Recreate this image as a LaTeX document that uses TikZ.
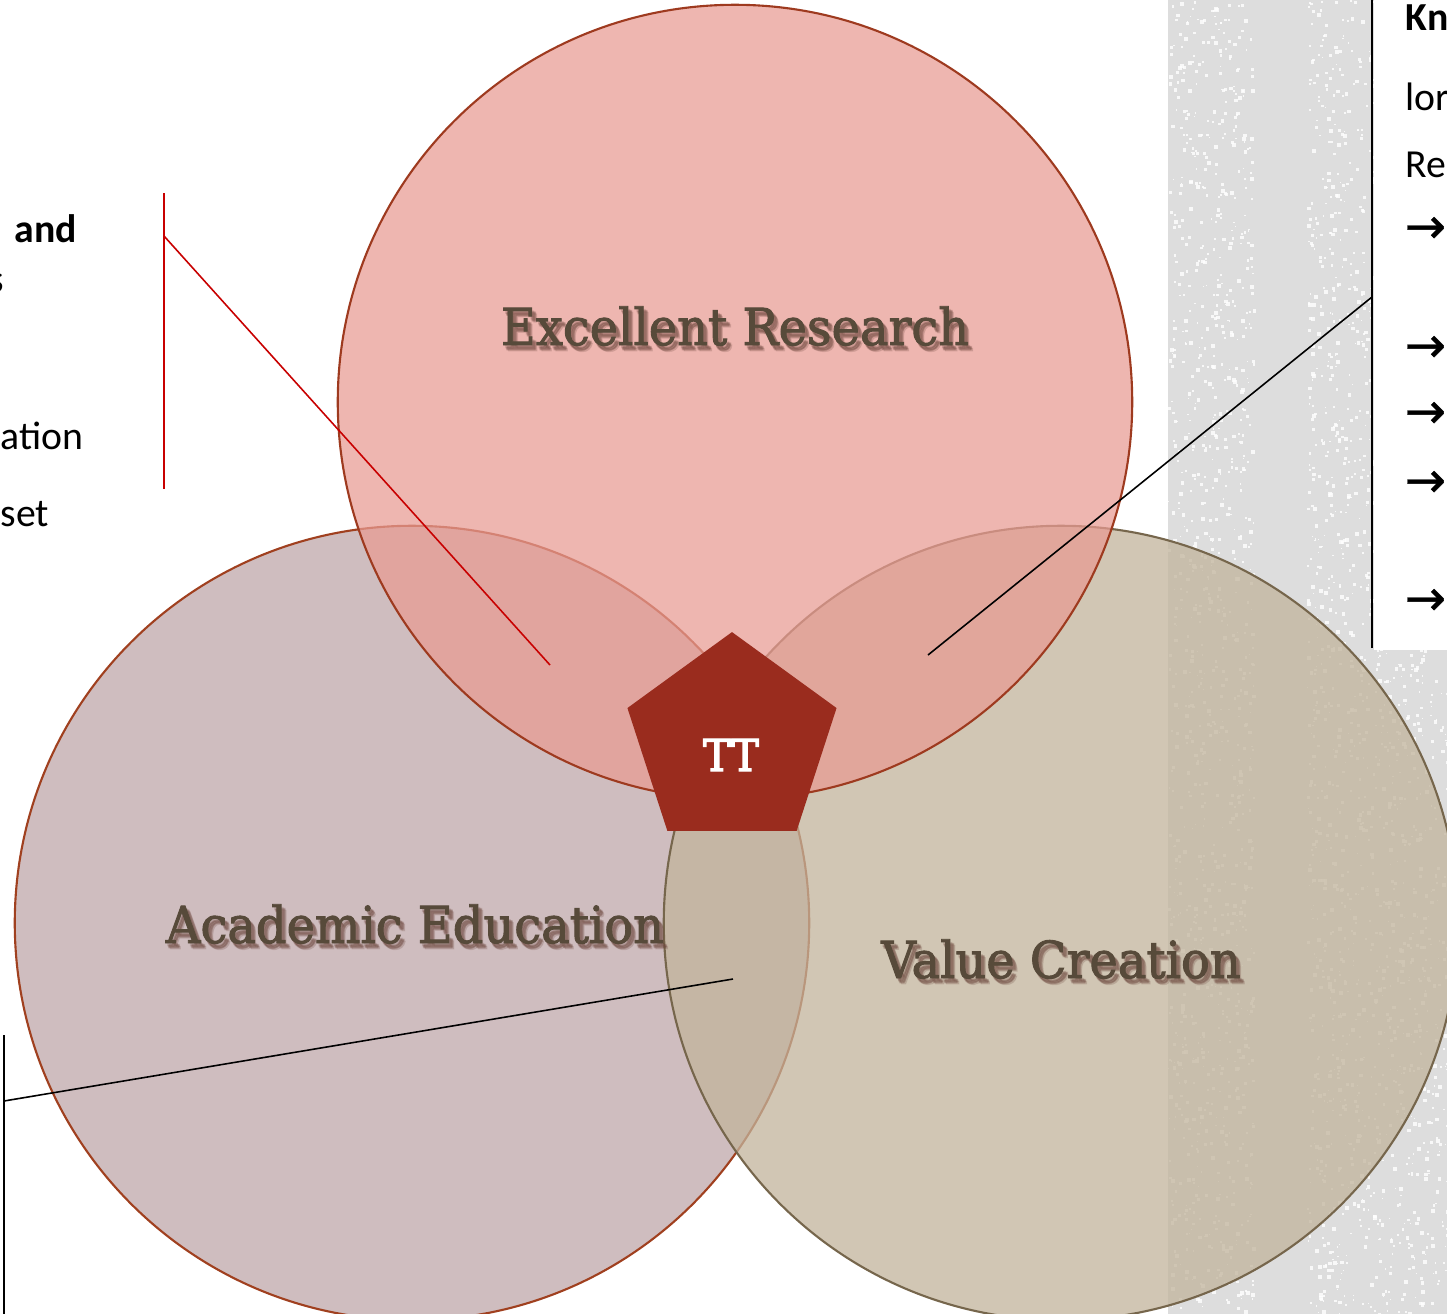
\documentclass[tikz,border=0pt]{standalone}
\usepackage{fontspec}
\setmainfont{Carlito}
\newfontfamily\slabfont[FakeStretch=0.94, FakeBold=1.8]{DejaVu Serif}
\newfontfamily\slabheavy[FakeStretch=0.94, FakeBold=3]{DejaVu Serif}
\newfontfamily\arrowfont[FakeBold=0.8]{DejaVu Sans}
\usetikzlibrary{arrows,shapes, positioning}

\definecolor{researchpink}{RGB}{232,155,147}
\definecolor{educationmauve}{RGB}{191,167,170}
\definecolor{valuetaupe}{RGB}{194,180,156}
\definecolor{researchedge}{RGB}{158,58,31}
\definecolor{educationedge}{RGB}{160,64,31}
\definecolor{valueedge}{RGB}{118,102,76}
\definecolor{ttred}{RGB}{154,44,30}
\definecolor{titlebrown}{RGB}{87,74,58}
\definecolor{titleshadow}{RGB}{110,72,62}
\definecolor{leaderred}{RGB}{200,0,0}
\definecolor{panelgray}{RGB}{221,221,221}

\tikzset{
  area/.style={circle, minimum size=7.94cm, inner sep=0pt, line width=0.6pt},
  title/.style={anchor=base, inner sep=0pt, text=titlebrown, font=\slabfont\fontsize{14.5}{17}\selectfont},
  titleshade/.style={title, text=titleshadow, text opacity=0.15},
  note/.style={anchor=base west, inner sep=0pt, font=\fontsize{11.3}{13}\selectfont},
  leader/.style={line width=0.45pt}
}

\begin{document}
\begin{tikzpicture}[x=0.01cm, y=-0.01cm]
\useasboundingbox (0,0) rectangle (1447,1314);
\clip (0,0) rectangle (1447,1314);
\fill[white] (0,0) rectangle (1447,1314);

% grey side panel with speckles
\fill[panelgray] (1168,0) rectangle (1447,1314);
\pgfmathsetseed{42}
\foreach \k in {1,...,1100}{
  \pgfmathsetmacro{\sx}{1168+85*rnd}
  \pgfmathsetmacro{\sy}{1314*rnd}
  \pgfmathsetmacro{\sw}{1+3*rnd}
  \fill[white, opacity=0.8] (\sx,\sy) rectangle ++(\sw,\sw);
}
\foreach \k in {1,...,1800}{
  \pgfmathsetmacro{\sx}{1307+140*rnd}
  \pgfmathsetmacro{\sy}{1314*rnd}
  \pgfmathsetmacro{\sw}{1+3*rnd}
  \fill[white, opacity=0.8] (\sx,\sy) rectangle ++(\sw,\sw);
}
\fill[white] (1374,0) rectangle (1447,650);

% % % % % % % % % % % % % % % % % % % % % % % % % %

\node [area, draw=educationedge, fill=educationmauve, fill opacity=0.75] (education) at (412,923) {};
\node [area, draw=valueedge, fill=valuetaupe, fill opacity=0.75] (value) at (1061,923) {};
\node [area, draw=researchedge, fill=researchpink, fill opacity=0.73] (research) at (735,402) {};

% leader lines
\coordinate (redtop) at (164,193);
\coordinate (redbot) at (164,489);
\coordinate (redknee) at (164,236);
\coordinate (redtip) at (550,665);
\draw [leader, leaderred] (redtop) -- (redbot);
\draw [leader, leaderred] (redknee) -- (redtip);

\coordinate (bartop) at (1372,0);
\coordinate (barbot) at (1372,648);
\coordinate (barknee) at (1372,297);
\coordinate (bartip) at (928,655);
\draw [leader, black] (bartop) -- (barbot);
\draw [leader, black] (barknee) -- (bartip);

\coordinate (lowtop) at (4,1035);
\coordinate (lowbot) at (4,1314);
\coordinate (lowknee) at (4,1101);
\coordinate (lowtip) at (733,979);
\draw [leader, black] (lowtop) -- (lowbot);
\draw [leader, black] (lowknee) -- (lowtip);

\node [regular polygon, regular polygon sides=5, minimum size=2.18cm, inner sep=0pt, fill=ttred, draw=ttred] (tt) at (732,742) {};
\node [anchor=base, inner sep=0pt, text=white, font=\slabheavy\fontsize{12.5}{14}\selectfont] (ttlabel) at (731,771) {TT};

% titles with a soft drop shadow
\foreach \dx/\dy in {2/3,3/4,4/5,3/5,4/4,5/6} {
  \node [titleshade] at (735+\dx,345+\dy) {Excellent Research};
  \node [titleshade] at (415+\dx,943+\dy) {Academic Education};
  \node [titleshade] at (1061+\dx,978+\dy) {Value Creation};
}
\node [title] (researchtitle) at (735,345) {Excellent Research};
\node [title] (educationtitle) at (415,943) {Academic Education};
\node [title] (valuetitle) at (1061,978) {Value Creation};

% side texts
\node [note, font=\bfseries\fontsize{11.3}{13}\selectfont] (and) at (14,242) {and};
\node [note, anchor=base east] (s) at (4.5,292) {s};
\node [note] (ation) at (0,449) {ation};
\node [note] (set) at (0,526) {set};

\node [note, font=\bfseries\fontsize{11.3}{13}\selectfont] (kn) at (1405,30) {Kn};
\node [note] (lor) at (1405,110) {lor};
\node [note] (re) at (1405,177) {Re};
\foreach \ay [count=\i] in {243,362,428,497,615}
  \node [note, font=\arrowfont\fontsize{14}{16}\selectfont] (arrow\i) at (1404,\ay) {→};
\end{tikzpicture}
\end{document}
